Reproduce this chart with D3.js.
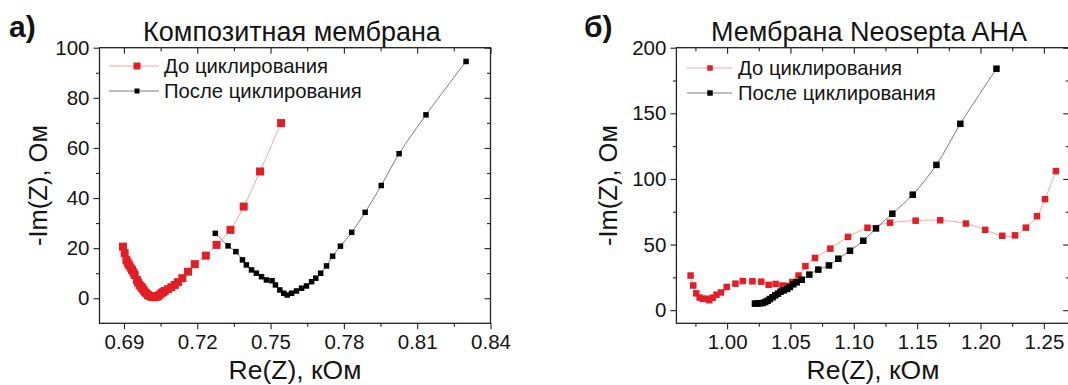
<!DOCTYPE html>
<html><head><meta charset="utf-8">
<script src="https://cdn.jsdelivr.net/npm/d3@7"></script>
<style>
html,body{margin:0;padding:0;background:#fff;}
svg{display:block;font-family:"Liberation Sans",Arial,sans-serif;}
</style></head>
<body>
<svg id="c" width="1068" height="385"></svg>
<script>
// ---------- data ----------
const seriesNames = ["До циклирования", "После циклирования"];
const panelTitles = ["Композитная мембрана", "Мембрана Neosepta AHA"];
const panelLabels = ["а)", "б)"];
const xTitle = "Re(Z), кОм";
const yTitle = "-Im(Z), Ом";

const leftXTicks = [0.69, 0.72, 0.75, 0.78, 0.81, 0.84];
const leftXMinor = [0.705, 0.735, 0.765, 0.795, 0.825];
const leftYTicks = [0, 20, 40, 60, 80, 100];
const leftYMinor = [10, 30, 50, 70, 90];
const rightXTicks = [1.00, 1.05, 1.10, 1.15, 1.20, 1.25];
const rightXMinor = [0.975, 1.025, 1.075, 1.125, 1.175, 1.225];
const rightYTicks = [0, 50, 100, 150, 200];
const rightYMinor = [25, 75, 125, 175];

// Panel a) composite membrane
const leftBeforeX = [0.6896, 0.6903, 0.691, 0.6915, 0.692, 0.6927, 0.6933, 0.6939, 0.6944, 0.6953, 0.6958, 0.6964, 0.697, 0.6975, 0.698, 0.6985, 0.6991, 0.6998, 0.7005, 0.7012, 0.7019, 0.7026, 0.7033, 0.7039, 0.7046, 0.7053, 0.706, 0.7067, 0.708, 0.7094, 0.7108, 0.7121, 0.7139, 0.7162, 0.719, 0.7235, 0.7279, 0.7336, 0.739, 0.7457, 0.7543];
const leftBeforeY = [20.6, 18.0, 15.3, 14.3, 13.3, 12.3, 11.3, 10.3, 9.3, 7.3, 6.3, 5.3, 4.6, 4.0, 3.3, 2.6, 2.0, 1.3, 0.9, 0.6, 0.5, 0.4, 0.6, 0.9, 1.4, 2.0, 2.4, 2.9, 3.6, 4.4, 5.3, 6.4, 8.0, 10.6, 13.6, 17.0, 21.3, 27.3, 36.6, 50.6, 69.9];
const leftAfterX = [0.7274, 0.7326, 0.7358, 0.7385, 0.7401, 0.7422, 0.7442, 0.7463, 0.7483, 0.7506, 0.752, 0.7538, 0.7554, 0.7568, 0.7586, 0.7606, 0.7627, 0.7647, 0.7668, 0.7685, 0.7705, 0.7729, 0.7754, 0.7786, 0.7832, 0.7887, 0.7953, 0.8026, 0.8136, 0.8300];
const leftAfterY = [25.9, 20.9, 18.6, 15.3, 13.3, 11.3, 10.0, 8.6, 7.3, 7.0, 5.3, 3.3, 2.0, 1.3, 2.0, 2.9, 4.0, 4.9, 6.6, 8.0, 10.0, 12.9, 16.8, 20.8, 26.3, 34.3, 45.0, 57.7, 73.2, 94.5];

// Panel b) Neosepta AHA
const rightBeforeX = [0.9712, 0.9733, 0.9757, 0.9783, 0.9809, 0.9836, 0.986, 0.9886, 0.9916, 0.9952, 0.9997, 1.0066, 1.0124, 1.0200, 1.0270, 1.0328, 1.0383, 1.0437, 1.0477, 1.0515, 1.0564, 1.0618, 1.0694, 1.0815, 1.0954, 1.1108, 1.1286, 1.1488, 1.1682, 1.1885, 1.2037, 1.2172, 1.2272, 1.2358, 1.2446, 1.2509, 1.2595];
const rightBeforeY = [26.4, 18.8, 12.8, 9.6, 8.6, 8.7, 7.6, 9.5, 11.8, 13.5, 17.7, 20.2, 22.2, 22.0, 21.7, 19.3, 20.0, 18.8, 18.5, 21.5, 26.4, 33.5, 39.8, 46.9, 55.8, 62.8, 66.6, 68.2, 68.5, 66.0, 61.2, 56.7, 57.0, 62.9, 71.6, 84.6, 106.0];
const rightAfterX = [1.022, 1.0238, 1.026, 1.0281, 1.0301, 1.032, 1.0338, 1.0359, 1.038, 1.0401, 1.0422, 1.0448, 1.0475, 1.0496, 1.0522, 1.0549, 1.0589, 1.0649, 1.072, 1.0804, 1.0878, 1.097, 1.1075, 1.1175, 1.1304, 1.1465, 1.1652, 1.1841, 1.2126];
const rightAfterY = [5.0, 5.0, 5.2, 5.5, 6.2, 7.2, 8.5, 9.8, 11.3, 12.6, 14.1, 15.1, 16.2, 17.7, 19.7, 21.2, 23.2, 27.1, 30.9, 34.1, 39.2, 45.3, 52.9, 62.3, 73.5, 88.0, 110.7, 142.0, 184.0];

// ---------- drawing ----------
const svg = d3.select("#c");
const RED = "#e41e25", RED_LINE = "#f5a3a3", BLK = "#000", BLK_LINE = "#7a7a7a";
const FONT = "'Liberation Sans', Arial, sans-serif";
const INK = "#141414";

const zip = (xs, ys) => xs.map((x, i) => [x, ys[i]]);

const panels = [
  {
    xDom: [0.68, 0.84], xRange: [99.5, 490.5], yDom: [-10, 100], yRange: [323.3, 47.7],
    xT: leftXTicks, xM: leftXMinor, yT: leftYTicks, yM: leftYMinor, xFmt: d3.format(".2f"),
    before: zip(leftBeforeX, leftBeforeY), after: zip(leftAfterX, leftAfterY),
    redSize: 8, blkSize: 5.5,
    title: panelTitles[0], titleX: 292, label: panelLabels[0], labelX: 9,
    xTitleX: 295, yTitleX: 47,
    leg: {x0: 109, x1: 159, mx: 137, tx: 164, y: [66, 91], rs: 7, bs: 5}
  },
  {
    xDom: [0.96, 1.27], xRange: [676.4, 1069.2], yDom: [-10, 200], yRange: [323.3, 47.7],
    xT: rightXTicks, xM: rightXMinor, yT: rightYTicks, yM: rightYMinor, xFmt: d3.format(".2f"),
    before: zip(rightBeforeX, rightBeforeY), after: zip(rightAfterX, rightAfterY),
    redSize: 6.5, blkSize: 6.5,
    title: panelTitles[1], titleX: 869, label: panelLabels[1], labelX: 584,
    xTitleX: 873, yTitleX: 617,
    leg: {x0: 687, x1: 732, mx: 710, tx: 738, y: [68, 93], rs: 5.5, bs: 5.5}
  }
];

panels.forEach(p => {
  const x = d3.scaleLinear().domain(p.xDom).range(p.xRange);
  const y = d3.scaleLinear().domain(p.yDom).range(p.yRange);
  const [x0, x1] = p.xRange, [yb, yt] = p.yRange;
  const g = svg.append("g");

  const styleAxis = sel => {
    sel.select(".domain").remove();
    sel.selectAll("line").attr("stroke", "#222").attr("stroke-width", 1.1);
    sel.selectAll("text").attr("font-family", FONT).attr("font-size", 20.5).attr("fill", INK);
  };
  // bottom (outward)
  g.append("g").attr("transform", `translate(0,${yb})`)
    .call(d3.axisBottom(x).tickValues(p.xT).tickSize(6).tickPadding(5).tickFormat(p.xFmt)).call(styleAxis);
  g.append("g").attr("transform", `translate(0,${yb})`)
    .call(d3.axisBottom(x).tickValues(p.xM).tickSize(3.5).tickFormat("")).call(styleAxis);
  // left (outward)
  g.append("g").attr("transform", `translate(${x0},0)`)
    .call(d3.axisLeft(y).tickValues(p.yT).tickSize(6).tickPadding(4)).call(styleAxis);
  g.append("g").attr("transform", `translate(${x0},0)`)
    .call(d3.axisLeft(y).tickValues(p.yM).tickSize(3.5).tickFormat("")).call(styleAxis);
  // top (inward)
  g.append("g").attr("transform", `translate(0,${yt})`)
    .call(d3.axisBottom(x).tickValues(p.xT).tickSize(6).tickFormat("")).call(styleAxis);
  g.append("g").attr("transform", `translate(0,${yt})`)
    .call(d3.axisBottom(x).tickValues(p.xM).tickSize(3.5).tickFormat("")).call(styleAxis);
  // right (inward)
  g.append("g").attr("transform", `translate(${x1},0)`)
    .call(d3.axisLeft(y).tickValues(p.yT).tickSize(6).tickFormat("")).call(styleAxis);
  g.append("g").attr("transform", `translate(${x1},0)`)
    .call(d3.axisLeft(y).tickValues(p.yM).tickSize(3.5).tickFormat("")).call(styleAxis);

  // frame
  g.append("rect").attr("x", x0).attr("y", yt).attr("width", x1 - x0).attr("height", yb - yt)
    .attr("fill", "none").attr("stroke", "#222").attr("stroke-width", 1.3);

  const line = d3.line().x(d => x(d[0])).y(d => y(d[1])).curve(d3.curveCatmullRom.alpha(0.5));
  g.append("path").datum(p.before).attr("d", line).attr("fill", "none").attr("stroke", RED_LINE).attr("stroke-width", 1);
  g.append("path").datum(p.after).attr("d", line).attr("fill", "none").attr("stroke", BLK_LINE).attr("stroke-width", 1);

  const sq = (data, s, col) => g.append("g").selectAll("rect").data(data).join("rect")
    .attr("x", d => x(d[0]) - s / 2).attr("y", d => y(d[1]) - s / 2)
    .attr("width", s).attr("height", s).attr("fill", col);
  sq(p.before, p.redSize, RED);
  sq(p.after, p.blkSize, BLK);

  // legend
  const L = p.leg;
  [[RED_LINE, RED, L.rs], [BLK_LINE, BLK, L.bs]].forEach((c, i) => {
    const yy = L.y[i];
    g.append("line").attr("x1", L.x0).attr("x2", L.x1).attr("y1", yy).attr("y2", yy).attr("stroke", c[0]).attr("stroke-width", 1);
    g.append("rect").attr("x", L.mx - c[2] / 2).attr("y", yy - c[2] / 2).attr("width", c[2]).attr("height", c[2]).attr("fill", c[1]);
    g.append("text").attr("x", L.tx).attr("y", yy).attr("dy", "0.35em").attr("font-family", FONT)
      .attr("font-size", 20.3).attr("fill", INK).text(seriesNames[i]);
  });

  // titles
  g.append("text").attr("x", p.titleX).attr("y", 41).attr("text-anchor", "middle").attr("font-family", FONT)
    .attr("font-size", 27).attr("fill", INK).text(p.title);
  g.append("text").attr("x", p.labelX).attr("y", 37).attr("font-family", FONT).attr("font-weight", "bold")
    .attr("font-size", 30).attr("fill", INK).text(p.label);
  g.append("text").attr("x", p.xTitleX).attr("y", 379).attr("text-anchor", "middle").attr("font-family", FONT)
    .attr("font-size", 26.5).attr("fill", INK).text(xTitle);
  g.append("text").attr("transform", `translate(${p.yTitleX},${(yt + yb) / 2}) rotate(-90)`)
    .attr("text-anchor", "middle").attr("font-family", FONT)
    .attr("font-size", 25.5).attr("fill", INK).text(yTitle);
});
</script>
</body></html>
